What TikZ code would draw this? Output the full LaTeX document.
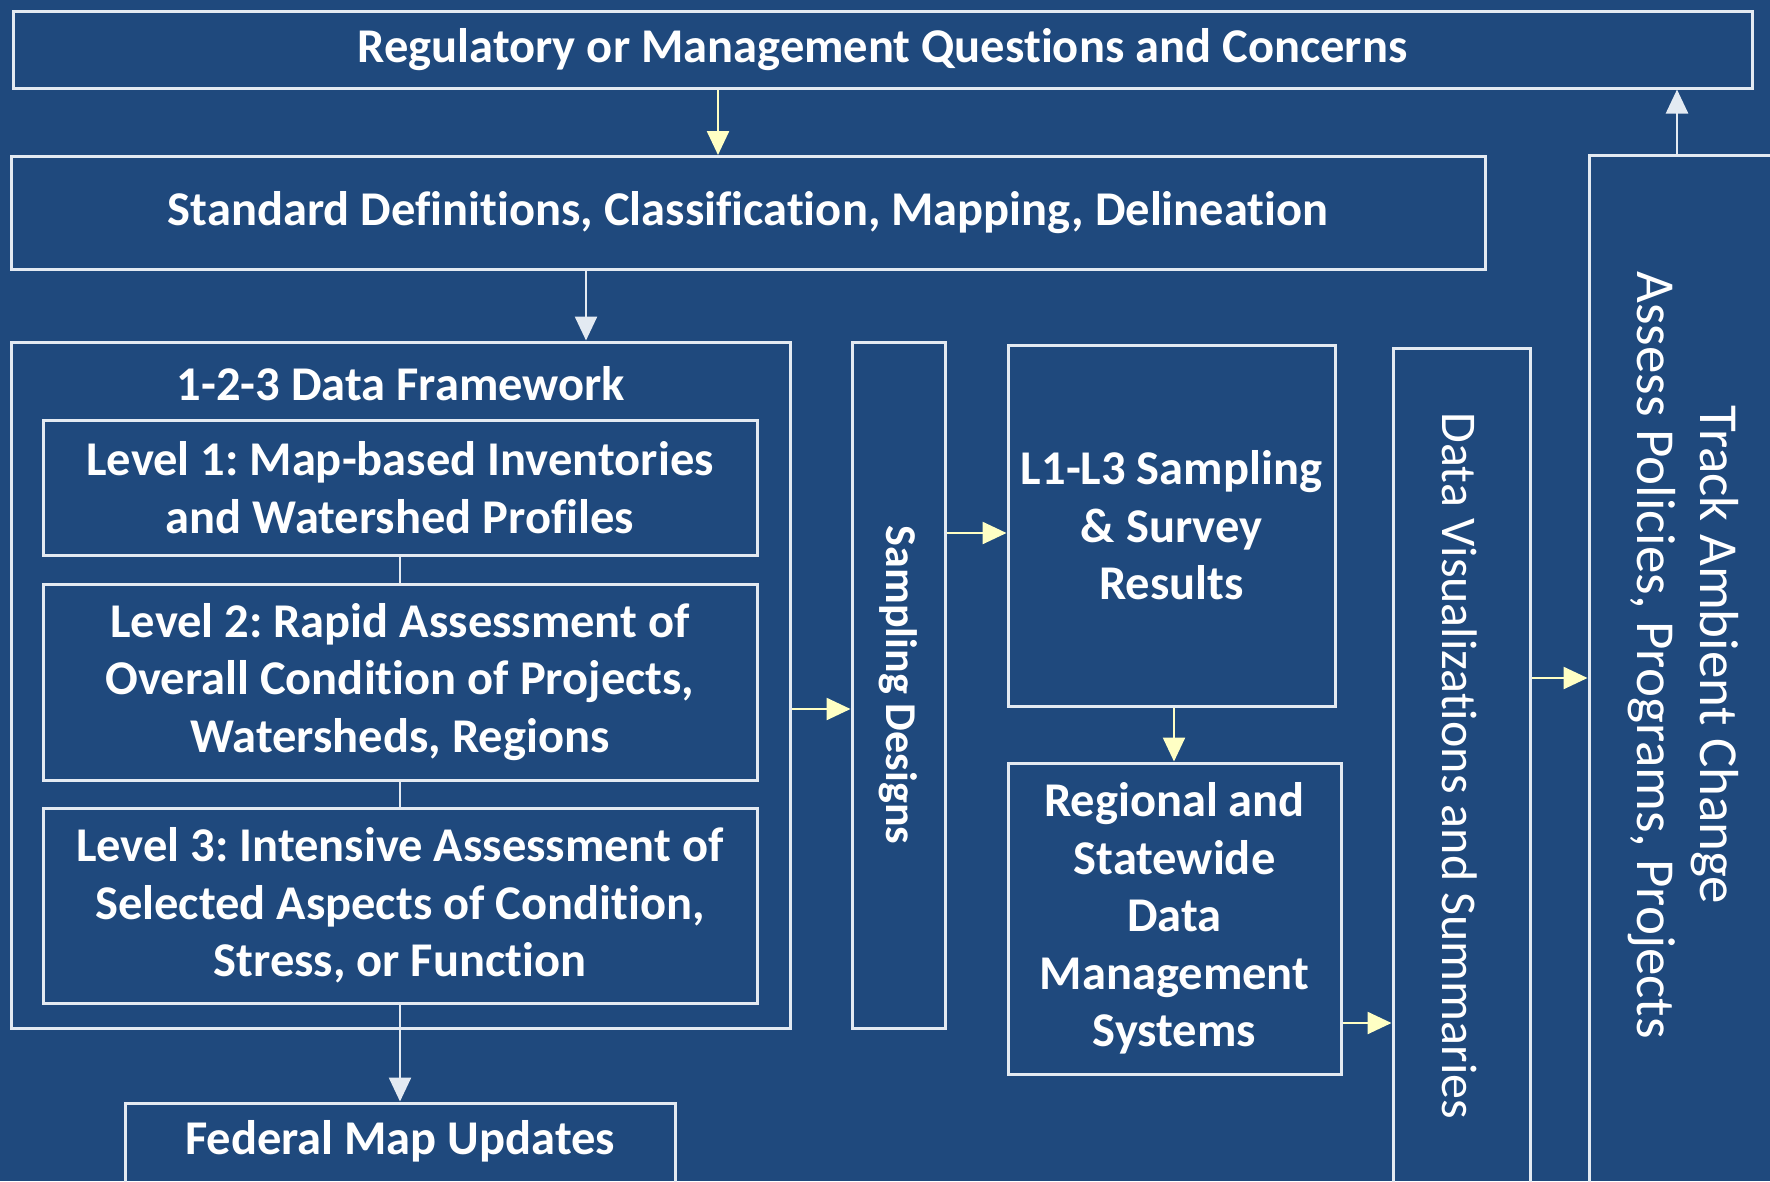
\documentclass[tikz,border=0pt]{standalone}
\usepackage{fontspec}
\setmainfont{Carlito}[Ligatures=NoCommon]
\usepackage{graphicx}
\usetikzlibrary{positioning, arrows.meta}
\frenchspacing

\definecolor{bgblue}{HTML}{1F497D}
\definecolor{edge}{HTML}{E3EAF2}
\definecolor{pale}{HTML}{FFFFC4}

\begin{document}
\begin{tikzpicture}[
          x = 1pt, y = -1pt,
          > = {Triangle[width=22pt,length=24pt]},
  box/.style = {rectangle, draw=#1, line width=3pt, text=white,
                align=center, inner sep=0pt},
box/.default = edge,
strong/.style = {font=\bfseries\fontsize{48.5}{57.5}\selectfont},
 light/.style = {font=\fontsize{#1}{63}\selectfont},
  link/.style = {line width=2.5pt, draw=#1}
                        ]
\useasboundingbox (0,0) rectangle (1770,1181);
\clip (0,0) rectangle (1770,1181);
\fill[bgblue] (0,0) rectangle (1770,1181);

% top rows
\node (quest) [box, strong, minimum width=1739pt, minimum height=77pt] at (882.5,49.5)
      {Regulatory or Management Questions and Concerns};
\node (std) [box, strong, minimum width=1474pt, minimum height=113pt] at (748,213)
      {Standard Definitions, Classification, Mapping, Delineation};

% the 1-2-3 framework and its levels
\node (frame) [box, minimum width=779pt, minimum height=686pt] at (400.5,685) {};
\node (ftitle) [strong, text=white] at (401,384) {1-2-3 Data Framework};
\node (lev1) [box, strong, minimum width=714pt, minimum height=135pt] at (400,487.5)
      {Level 1: Map-based Inventories\\and Watershed Profiles};
\node (lev2) [box, strong, minimum width=714pt, minimum height=196pt] at (400,682)
      {Level 2: Rapid Assessment of\\Overall Condition of Projects,\\Watersheds, Regions};
\node (lev3) [box, strong, minimum width=714pt, minimum height=195pt] at (400,905.5)
      {Level 3: Intensive Assessment of\\Selected Aspects of Condition,\\Stress, or Function};
\node (fed) [box, minimum width=550pt, minimum height=117pt] at (400,1161.5) {};
\node (fedtxt) [strong, text=white] at (400,1141) {Federal Map Updates};

% sampling and results
\node (samp) [box, font=\bfseries\fontsize{44}{57.5}\selectfont,
      minimum width=93pt, minimum height=686pt] at (898.5,685)
      {\rotatebox{-90}{Sampling Designs}};
\node (res) [box, strong, minimum width=327pt, minimum height=361pt] at (1171.5,525.5)
      {L1-L3 Sampling\\\& Survey\\Results};
\node (reg) [box, strong, minimum width=333pt, minimum height=311pt] at (1174.5,918.5)
      {Regional and\\Statewide\\Data\\Management\\Systems};

% tall columns on the right
\node (vis) [box, minimum width=137pt, minimum height=852pt] at (1461.5,774) {};
\node (vistxt) [light=50, text=white] at (1460,766)
      {\rotatebox{-90}{Data Visualizations and Summaries}};
\node (assess) [box, minimum width=211pt, minimum height=1065pt] at (1694.5,687.5) {};
\node (asstxt) [light=55, text=white] at (1681.5,655)
      {\rotatebox{-90}{\begin{tabular}{@{}c@{}}Track Ambient Change\\
       Assess Policies, Programs, Projects\end{tabular}}};

% connectors
\draw[->, link=pale] (718,0 |- quest.south) -- (718,0 |- std.north);
\draw[->, link=edge] (586,0 |- std.south) -- (586,0 |- frame.north);
\draw[link=edge] (lev1.south) -- (lev2.north);
\draw[link=edge] (lev2.south) -- (lev3.north);
\draw[->, link=edge] (lev3.south) -- (fed.north);
\draw[->, link=pale] (frame.east |- 0,709) -- (samp.west |- 0,709);
\draw[->, link=pale] (samp.east |- 0,533) -- (res.west |- 0,533);
\draw[->, link=pale] (1174,0 |- res.south) -- (1174,0 |- reg.north);
\draw[->, link=pale] (reg.east |- 0,1023) -- (vis.west |- 0,1023);
\draw[->, link=pale] (vis.east |- 0,678) -- (assess.west |- 0,678);
\draw[->, link=edge] (1677,0 |- assess.north) -- (1677,0 |- quest.south);
\end{tikzpicture}
\end{document}
